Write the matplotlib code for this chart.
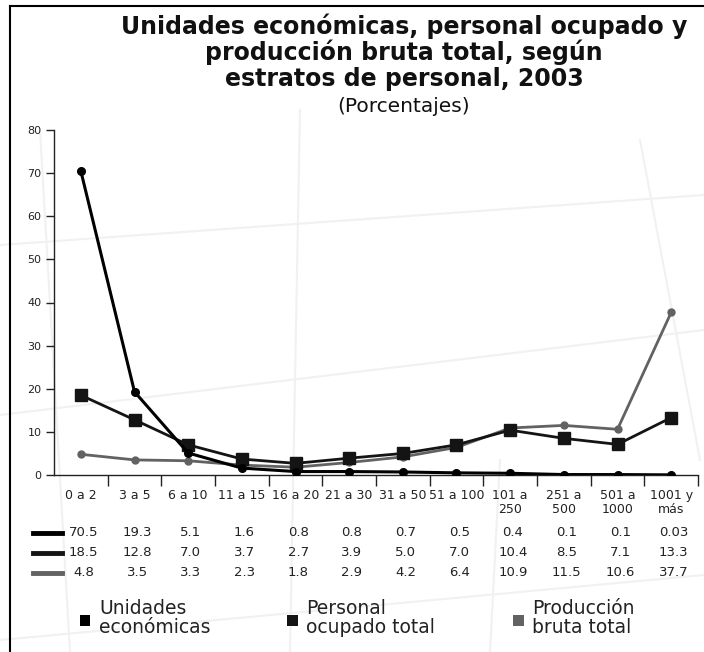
import numpy as np
import matplotlib.pyplot as plt
from matplotlib.lines import Line2D
from matplotlib.patches import Rectangle
import matplotlib.transforms as mtransforms

# categories (estratos de personal)
categorias = ["0 a 2", "3 a 5", "6 a 10", "11 a 15", "16 a 20", "21 a 30",
              "31 a 50", "51 a 100", "101 a\n250", "251 a\n500", "501 a\n1000", "1001 y\nmás"]

unidades = [70.5, 19.3, 5.1, 1.6, 0.8, 0.8, 0.7, 0.5, 0.4, 0.1, 0.1, 0.03]
personal = [18.5, 12.8, 7.0, 3.7, 2.7, 3.9, 5.0, 7.0, 10.4, 8.5, 7.1, 13.3]
produccion = [4.8, 3.5, 3.3, 2.3, 1.8, 2.9, 4.2, 6.4, 10.9, 11.5, 10.6, 37.7]

unidades_txt = ["70.5", "19.3", "5.1", "1.6", "0.8", "0.8", "0.7", "0.5", "0.4", "0.1", "0.1", "0.03"]
personal_txt = ["18.5", "12.8", "7.0", "3.7", "2.7", "3.9", "5.0", "7.0", "10.4", "8.5", "7.1", "13.3"]
produccion_txt = ["4.8", "3.5", "3.3", "2.3", "1.8", "2.9", "4.2", "6.4", "10.9", "11.5", "10.6", "37.7"]

nombres = ["Unidades\neconómicas", "Personal\nocupado total", "Producción\nbruta total"]
colores = ["#000000", "#141414", "#626262"]

W, H = 704, 652
fig = plt.figure(figsize=(W / 100, H / 100), dpi=100)
fig.patch.set_facecolor("white")

def fx(px):
    return px / W

def fy(py):
    return 1 - py / H

# faint background watermark lines
wm = "#f1f1f1"
for (x0, y0, x1, y1) in [(0, 245, 704, 195), (0, 415, 704, 330), (0, 640, 704, 575),
                         (40, 130, 70, 652), (300, 110, 290, 652), (640, 140, 700, 460),
                         (500, 460, 490, 652)]:
    fig.add_artist(Line2D([fx(x0), fx(x1)], [fy(y0), fy(y1)], color=wm, lw=1.5, zorder=0))

# frame (top and left only, picture is cropped)
fig.add_artist(Line2D([fx(10), fx(704)], [fy(6), fy(6)], color="black", lw=1.5))
fig.add_artist(Line2D([fx(10), fx(10)], [fy(6), fy(652)], color="black", lw=1.5))

# title
titulo = ["Unidades económicas, personal ocupado y",
          "producción bruta total, según",
          "estratos de personal, 2003"]
for i, linea in enumerate(titulo):
    fig.text(fx(404), fy(26 + i * 26.5), linea, ha="center", va="center",
             fontsize=17, fontweight="bold", color="#111111")
fig.text(fx(404), fy(107), "(Porcentajes)", ha="center", va="center",
         fontsize=14.5, color="#111111")

ax = fig.add_axes([fx(54), fy(475), fx(698) - fx(54), fy(130) - fy(475)])
ax.patch.set_alpha(0)
x = np.arange(len(categorias))

ax.plot(x, produccion, color=colores[2], lw=2, marker="o", ms=5, zorder=3)
ax.plot(x, personal, color=colores[1], lw=2, marker="s", ms=8.5, zorder=4)
ax.plot(x, unidades, color=colores[0], lw=2.2, marker="o", ms=5.5, zorder=5)

ax.set_xlim(-0.5, len(categorias) - 0.5)
ax.set_ylim(0, 80)
ax.set_yticks(range(0, 81, 10))
ax.tick_params(axis="y", length=6, width=1, labelsize=8, colors="#222222", pad=3)
ax.set_xticks(x)
ax.set_xticklabels(categorias, fontsize=9, color="#222222", linespacing=1.1)
ax.tick_params(axis="x", which="major", length=0, pad=10)
ax.set_xticks(np.arange(0.5, len(categorias), 1), minor=True)
ax.tick_params(axis="x", which="minor", length=8, width=1, color="#222222")
for s in ["top", "right"]:
    ax.spines[s].set_visible(False)
for s in ["left", "bottom"]:
    ax.spines[s].set_linewidth(1)
    ax.spines[s].set_color("#222222")

# data table under the chart
trans = mtransforms.blended_transform_factory(ax.transData, fig.transFigure)
filas = [unidades_txt, personal_txt, produccion_txt]
for r, (fila, c) in enumerate(zip(filas, colores)):
    yy = fy(533 + r * 20)
    fig.add_artist(Line2D([fx(33), fx(62)], [yy, yy], color=c, lw=3.5))
    for i, v in enumerate(fila):
        ax.text(i + 0.05, yy, v, transform=trans, ha="center", va="center",
                fontsize=9.5, color="#222222", clip_on=False)

# legend
for xs, nombre, c in zip([85, 292, 518], nombres, colores):
    fig.add_artist(Rectangle((fx(xs - 5.5), fy(626)), fx(11), fy(615) - fy(626),
                             color=c, lw=0))
    fig.text(fx(xs + 14), fy(618), nombre, ha="left", va="center",
             fontsize=13.5, color="#222222", linespacing=1.0)

fig.savefig("out.png", dpi=100)
